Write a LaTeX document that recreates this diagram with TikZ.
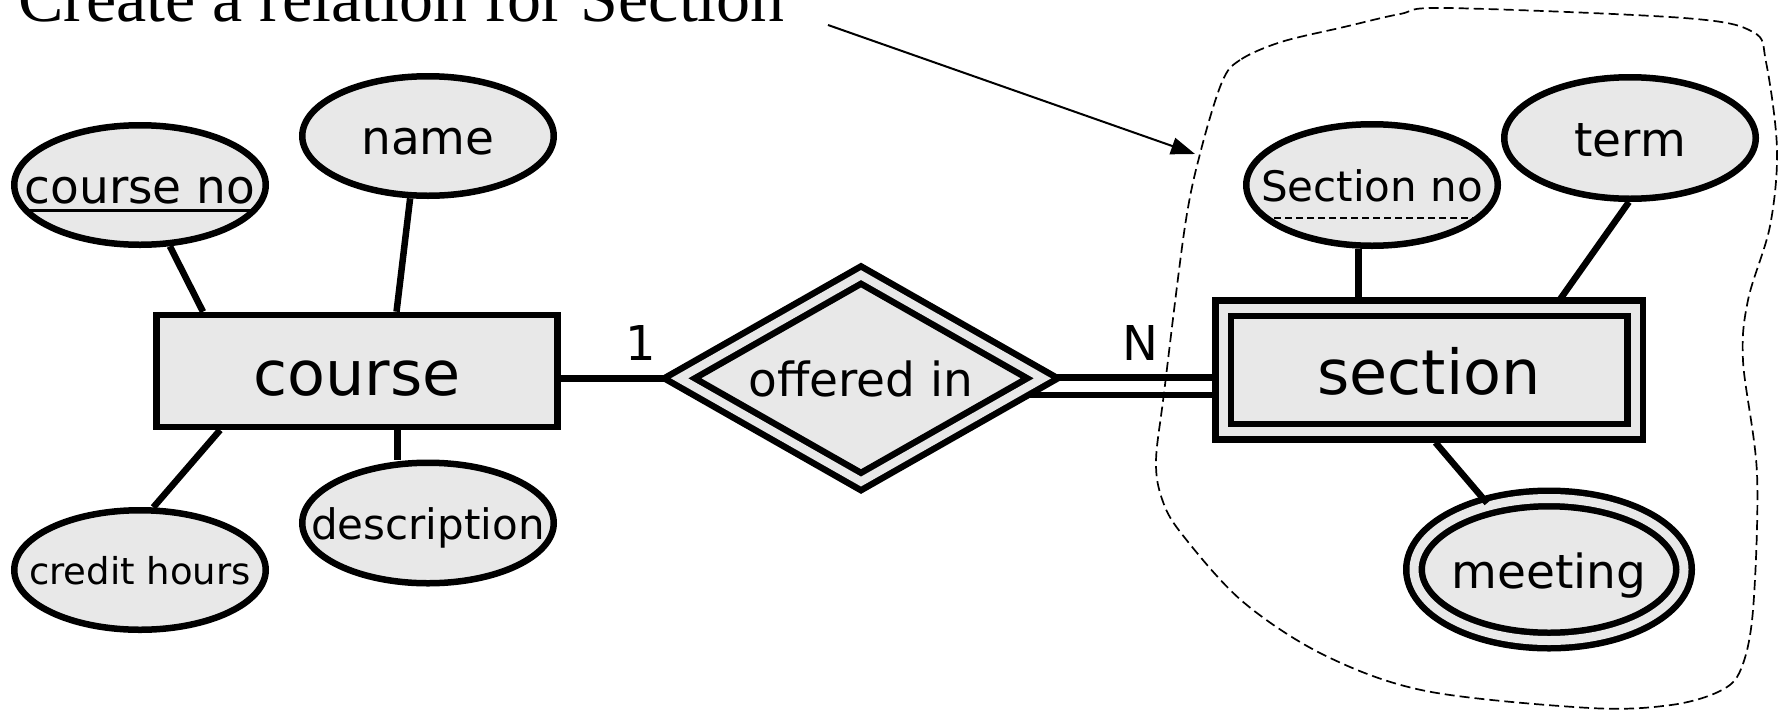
\documentclass[tikz,border=0pt]{standalone}
\usepackage{fontspec}
\setmainfont{DejaVu Sans}
\newfontfamily\titlefont{Liberation Serif}
\usetikzlibrary{shapes.geometric,arrows.meta,calc}
\definecolor{boxgray}{HTML}{E8E8E8}
\pgfdeclarelayer{bg}
\pgfsetlayers{bg,main}
% a label takes no width, and its height is that of a full line,
% so the shapes keep their given sizes and the text sits on a common line
\newcommand\lbl[1]{\makebox[0pt]{\vrule width 0pt height 1.005em depth 0.21em\relax #1}}
\tikzset{
  attr/.style={ellipse, draw, fill=boxgray, line width=6.5pt, inner sep=0pt,
    font=\fontsize{47}{50}\selectfont},
  multiattr/.style={attr, double=boxgray, double distance=9pt},
  ent/.style={rectangle, draw, fill=boxgray, line width=6.5pt, inner sep=0pt,
    font=\fontsize{62}{70}\selectfont},
  weakent/.style={ent, double=boxgray, double distance=9pt},
  idrel/.style={diamond, draw, fill=boxgray, line width=6.5pt, inner sep=0pt,
    outer sep=0pt, double=boxgray, double distance=8.5pt,
    font=\fontsize{47}{50}\selectfont},
  conn/.style={line width=6.5pt},
  total/.style={line width=6.5pt, double=white, double distance=11pt},
  card/.style={inner sep=0pt, font=\fontsize{48}{50}\selectfont},
  keyline/.style={line width=3pt},
  partialkey/.style={line width=1.6pt, dash pattern=on 7pt off 4pt},
  scope/.style={line width=1.7pt, dash pattern=on 10pt off 5pt},
  callout/.style={line width=2pt, -{Triangle[length=24pt,width=17pt]}}
}
\begin{document}
\begin{tikzpicture}[x=1pt,y=-1pt]
\useasboundingbox (0,0) rectangle (1779,715);

% title and its pointer
\node[anchor=base west, inner sep=0pt, font=\titlefont\fontsize{68}{70}\selectfont]
  (title) at (18,21) {Create a relation for Section};
\coordinate (calloutstart) at (828,25);
\coordinate (callouttip) at (1195,154);
\draw[callout] (calloutstart) -- (callouttip);

% course and its attributes
\node[ent, minimum width=400.9pt, minimum height=111.8pt] (course) at (357,370.85) {\lbl{course}};
\node[attr, minimum width=251.5pt, minimum height=119.5pt] (cno) at (140,185) {\lbl{course no}};
\node[attr, minimum width=251.5pt, minimum height=119.5pt] (name) at (428,136) {\lbl{name}};
\node[attr, minimum width=251.5pt, minimum height=119.5pt, font=\fontsize{37}{40}\selectfont]
  (credit) at (140,570) {\lbl{credit hours}};
\node[attr, minimum width=251.5pt, minimum height=120.5pt, font=\fontsize{42}{45}\selectfont]
  (desc) at (428,523) {\lbl{description}};
\draw[keyline] ($(cno.center)+(-117,25)$) -- ($(cno.center)+(117,25)$);

% identifying relationship
\node[idrel, minimum width=363pt, minimum height=206.5pt] (rel) at (861,378.3) {\lbl{offered in}};
\node[card] (one) at (641,343) {1};
\node[card] (many) at (1140,343) {N};

% weak entity section and its attributes
\node[weakent, minimum width=412pt, minimum height=123.5pt] (sec) at (1429,369.75) {\lbl{section}};
\node[attr, minimum width=251.5pt, minimum height=121.5pt, font=\fontsize{42}{45}\selectfont]
  (secno) at (1372,185) {\lbl{Section no}};
\node[attr, minimum width=251.5pt, minimum height=121.5pt] (term) at (1630,138) {\lbl{term}};
\node[multiattr, minimum width=270pt, minimum height=142pt] (meet) at (1549,569.5) {\lbl{meeting}};
\draw[partialkey] ($(secno.center)+(-109,33)$) -- ($(secno.center)+(109,33)$);

% connectors, kept behind the shapes
\begin{pgfonlayer}{bg}
  \draw[conn] (cno.-64) -- ($(course.north west)!0.122!(course.north east)$);
  \draw[conn] (name.254) -- ($(course.north west)!0.597!(course.north east)$);
  \draw[conn] (credit.78) -- ($(course.south west)!0.164!(course.south east)$);
  \draw[conn] ($(course.south west)!0.6!(course.south east)$) coordinate (dtop)
    -- (dtop |- desc.north);
  \draw[conn] (course.east |- rel.west) -- (rel.west);
  \coordinate (relside) at ($(rel.east)+(-40,7.9)$);
  \draw[total] (relside) -- (relside -| sec.west);
  \draw[conn] (secno.258) -- (secno.258 |- sec.north);
  \draw[conn] (term.269) -- ($(sec.north west)!0.804!(sec.north east)$);
\end{pgfonlayer}
% this one runs over the outer ring of the multivalued attribute
\draw[conn] ($(sec.south)+(6.4,7.75)$) -- (meet.133);

% outline grouping the weak entity with its attributes
\draw[scope] plot[smooth cycle, tension=0.55] coordinates {
  (1281,42) (1240,60) (1222,82) (1201,150) (1185,226) (1164,393) (1156,461)
  (1162,499) (1181,533) (1242,601) (1324,655) (1426,691) (1590,708) (1671,705)
  (1720,691) (1741,669) (1753,610) (1757,474) (1743,361) (1748,300) (1770,226)
  (1777,149) (1766,62) (1753,32) (1684,18) (1447,8) (1400,14) (1344,27)};
\end{tikzpicture}
\end{document}
